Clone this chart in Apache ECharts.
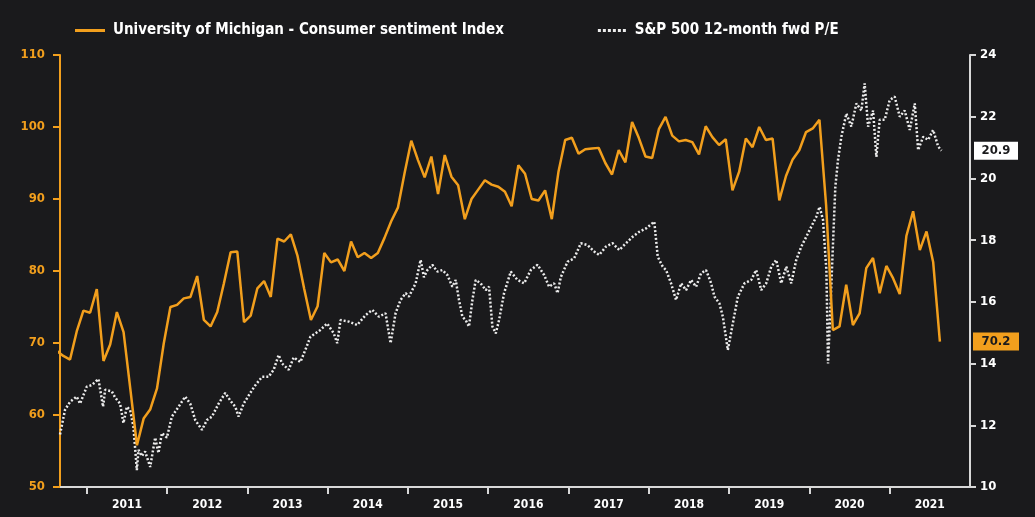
<!DOCTYPE html>
<html><head><meta charset="utf-8">
<script src="https://cdn.jsdelivr.net/npm/echarts@6/dist/echarts.min.js"></script>
<style>html,body{margin:0;padding:0;background:#1a1a1c;}#c{width:1035px;height:517px;}</style>
</head><body><div id="c"></div>
<script>
const FONT = '"DejaVu Sans Condensed","Liberation Sans Narrow","Roboto Condensed",sans-serif';
const ORANGE = '#F29F1D';

const seriesNames = ['University of Michigan - Consumer sentiment Index', 'S&P 500 12-month fwd P/E'];

// Monthly sentiment index, Aug 2010 .. Aug 2021 (plotted mid-month)
const umichStartYear = 2010, umichStartMonth = 8;
const umichValues = [
  68.9, 68.2, 67.7, 71.6, 74.5,
  74.2, 77.5, 67.5, 69.8, 74.3, 71.5, 63.7, 55.8, 59.5, 60.8, 63.7, 69.9,
  75.0, 75.3, 76.2, 76.4, 79.3, 73.2, 72.3, 74.3, 78.3, 82.6, 82.7, 72.9,
  73.8, 77.6, 78.6, 76.4, 84.5, 84.1, 85.1, 82.1, 77.5, 73.2, 75.1, 82.5,
  81.2, 81.6, 80.0, 84.1, 81.9, 82.5, 81.8, 82.5, 84.6, 86.9, 88.8, 93.6,
  98.1, 95.4, 93.0, 95.9, 90.7, 96.1, 93.1, 91.9, 87.2, 90.0, 91.3, 92.6,
  92.0, 91.7, 91.0, 89.0, 94.7, 93.5, 90.0, 89.8, 91.2, 87.2, 93.8, 98.2,
  98.5, 96.3, 96.9, 97.0, 97.1, 95.0, 93.4, 96.8, 95.1, 100.7, 98.5, 95.9,
  95.7, 99.7, 101.4, 98.8, 98.0, 98.2, 97.9, 96.2, 100.1, 98.6, 97.5, 98.3,
  91.2, 93.8, 98.4, 97.2, 100.0, 98.2, 98.4, 89.8, 93.2, 95.5, 96.8, 99.3,
  99.8, 101.0, 89.1, 71.8, 72.3, 78.1, 72.5, 74.1, 80.4, 81.8, 76.9, 80.7,
  79.0, 76.8, 84.9, 88.3, 82.9, 85.5, 81.2, 70.2
];

// S&P 500 forward P/E, dates as decimal years
const peDates = [
  2010.667, 2010.729, 2010.792, 2010.875, 2010.916, 2011.000, 2011.062, 2011.145, 2011.203, 2011.228,
  2011.312, 2011.353, 2011.415, 2011.457, 2011.499, 2011.540, 2011.581, 2011.624, 2011.644, 2011.686,
  2011.727, 2011.790, 2011.852, 2011.893, 2011.936, 2011.998, 2012.060, 2012.143, 2012.226, 2012.289,
  2012.351, 2012.435, 2012.497, 2012.559, 2012.642, 2012.725, 2012.788, 2012.850, 2012.891, 2012.954,
  2013.037, 2013.100, 2013.183, 2013.265, 2013.328, 2013.390, 2013.433, 2013.515, 2013.577, 2013.661,
  2013.723, 2013.786, 2013.910, 2013.994, 2014.076, 2014.119, 2014.160, 2014.264, 2014.368, 2014.472,
  2014.555, 2014.638, 2014.721, 2014.784, 2014.846, 2014.908, 2014.971, 2015.012, 2015.096, 2015.158,
  2015.199, 2015.242, 2015.304, 2015.366, 2015.429, 2015.491, 2015.553, 2015.595, 2015.636, 2015.678,
  2015.719, 2015.760, 2015.803, 2015.844, 2015.906, 2015.969, 2016.010, 2016.052, 2016.094, 2016.135,
  2016.197, 2016.281, 2016.364, 2016.447, 2016.530, 2016.614, 2016.696, 2016.758, 2016.821, 2016.863,
  2016.904, 2016.988, 2017.070, 2017.154, 2017.237, 2017.320, 2017.382, 2017.466, 2017.549, 2017.632,
  2017.716, 2017.799, 2017.881, 2017.965, 2018.068, 2018.111, 2018.173, 2018.215, 2018.277, 2018.339,
  2018.402, 2018.464, 2018.526, 2018.589, 2018.651, 2018.713, 2018.776, 2018.817, 2018.879, 2018.922,
  2018.984, 2019.046, 2019.109, 2019.191, 2019.275, 2019.337, 2019.400, 2019.462, 2019.525, 2019.587,
  2019.649, 2019.712, 2019.774, 2019.836, 2019.899, 2019.961, 2020.024, 2020.086, 2020.127, 2020.170,
  2020.211, 2020.232, 2020.264, 2020.294, 2020.323, 2020.356, 2020.398, 2020.460, 2020.522, 2020.585,
  2020.647, 2020.688, 2020.731, 2020.793, 2020.834, 2020.875, 2020.938, 2021.000, 2021.062, 2021.125,
  2021.187, 2021.250, 2021.312, 2021.354, 2021.417, 2021.479, 2021.541, 2021.604, 2021.645
];
const peValues = [
  11.7, 12.5, 12.76, 12.93, 12.7, 13.25, 13.3, 13.5, 12.6, 13.15,
  13.1, 12.9, 12.7, 12.07, 12.6, 12.5, 11.95, 10.55, 11.2, 11.0,
  11.15, 10.65, 11.6, 11.1, 11.75, 11.6, 12.28, 12.6, 12.93, 12.7,
  12.17, 11.85, 12.17, 12.28, 12.7, 13.05, 12.8, 12.6, 12.28, 12.7,
  13.05, 13.3, 13.57, 13.57, 13.8, 14.28, 14.0, 13.8, 14.2, 14.05,
  14.45, 14.87, 15.09, 15.3, 14.98, 14.66, 15.41, 15.36, 15.25, 15.57,
  15.74, 15.52, 15.63, 14.66, 15.63, 16.06, 16.28, 16.17, 16.6, 17.36,
  16.8, 17.03, 17.2, 16.98, 17.03, 16.87, 16.49, 16.71, 16.06, 15.52,
  15.41, 15.2, 16.06, 16.71, 16.6, 16.38, 16.49, 15.2, 14.98, 15.41,
  16.28, 16.98, 16.71, 16.6, 17.03, 17.2, 16.87, 16.49, 16.6, 16.28,
  16.8, 17.3, 17.41, 17.9, 17.84, 17.63, 17.52, 17.79, 17.9, 17.68,
  17.9, 18.11, 18.27, 18.38, 18.6, 17.46, 17.14, 17.03, 16.6, 16.06,
  16.6, 16.38, 16.71, 16.49, 16.93, 17.03, 16.6, 16.17, 15.95, 15.52,
  14.44, 15.3, 16.17, 16.6, 16.71, 17.03, 16.38, 16.6, 17.14, 17.36,
  16.6, 17.14, 16.6, 17.36, 17.79, 18.11, 18.44, 18.76, 19.08, 18.65,
  17.03, 14.0, 15.96, 17.9, 19.73, 20.6, 21.35, 22.1, 21.68, 22.43,
  22.2, 23.08, 21.68, 22.2, 20.7, 21.9, 21.9, 22.54, 22.65, 22.0,
  22.2, 21.57, 22.43, 20.92, 21.35, 21.25, 21.57, 21.03, 20.9
];

const yearTicks = [2011, 2012, 2013, 2014, 2015, 2016, 2017, 2018, 2019, 2020, 2021];
const leftTicks = { min: 50, max: 110, interval: 10 };
const rightTicks = { min: 10, max: 24, interval: 2 };
const xRange = { min: 2010.6667, max: 2022.0 };

const umichData = umichValues.map((v, i) => {
  const m = umichStartMonth - 1 + i;
  const yr = umichStartYear + Math.floor(m / 12) + ((m % 12) + 0.5) / 12;
  return [yr, v];
});
const peData = peDates.map((d, i) => [d, peValues[i]]);
const lastUmich = umichValues[umichValues.length - 1];
const lastPe = peValues[peValues.length - 1];

const DOT_ICON = 'path://M0,0h3v3h-3z M5,0h3v3h-3z M10,0h3v3h-3z M15,0h3v3h-3z M20,0h3v3h-3z M25,0h3v3h-3z';

const chart = echarts.init(document.getElementById('c'), null, { renderer: 'canvas' });
const labelStyle = { fontFamily: FONT, fontWeight: 'bold', fontSize: 13 };

chart.setOption({
  backgroundColor: '#1a1a1c',
  animation: false,
  textStyle: { fontFamily: FONT },
  grid: { left: 60, right: 65, top: 55, bottom: 30, containLabel: false },
  legend: {
    left: 70, top: 18,
    itemWidth: 30, itemHeight: 3, itemGap: 94,
    textStyle: { color: '#ffffff', fontFamily: FONT, fontWeight: 'bold', fontSize: 15, padding: [0, 0, 0, 3] },
    data: [
      { name: seriesNames[0], icon: 'rect', itemStyle: { color: ORANGE } },
      { name: seriesNames[1], icon: DOT_ICON, itemStyle: { color: '#ececec' } }
    ]
  },
  xAxis: {
    type: 'value', min: xRange.min, max: xRange.max,
    axisLine: { show: true, lineStyle: { color: '#d8d8d8', width: 2 } },
    axisTick: { show: true, customValues: yearTicks, length: 7, lineStyle: { color: '#d8d8d8', width: 2 } },
    axisLabel: { show: true, customValues: yearTicks.map(y => y + 0.5), formatter: v => String(Math.floor(v)),
                 color: '#ffffff', margin: 12, fontFamily: FONT, fontWeight: 'bold', fontSize: 12 },
    splitLine: { show: false }
  },
  yAxis: [
    {
      type: 'value', position: 'left', min: leftTicks.min, max: leftTicks.max, interval: leftTicks.interval,
      axisLine: { show: true, lineStyle: { color: ORANGE, width: 2 } },
      axisTick: { show: true, length: 7, lineStyle: { color: ORANGE, width: 2 } },
      axisLabel: Object.assign({ color: ORANGE, margin: 15 }, labelStyle),
      splitLine: { show: false }
    },
    {
      type: 'value', position: 'right', min: rightTicks.min, max: rightTicks.max, interval: rightTicks.interval,
      axisLine: { show: true, lineStyle: { color: '#d8d8d8', width: 2 } },
      axisTick: { show: true, length: 6, lineStyle: { color: '#d8d8d8', width: 2 } },
      axisLabel: Object.assign({ color: '#ffffff', margin: 10 }, labelStyle),
      splitLine: { show: false }
    }
  ],
  series: [
    {
      name: seriesNames[0], type: 'line', yAxisIndex: 0, data: umichData,
      showSymbol: false, symbol: 'none', clip: true,
      lineStyle: { color: ORANGE, width: 2.5 },
      itemStyle: { color: ORANGE },
      z: 3,
      markPoint: {
        symbol: 'rect', symbolSize: [46, 18], symbolOffset: [26, 0],
        itemStyle: { color: ORANGE },
        label: { show: true, color: '#1a1a1c', fontFamily: FONT, fontWeight: 'bold', fontSize: 13, formatter: () => lastUmich.toFixed(1) },
        data: [{ coord: [xRange.max, lastUmich] }]
      }
    },
    {
      name: seriesNames[1], type: 'line', yAxisIndex: 1, data: peData,
      showSymbol: false, symbol: 'none', clip: true,
      lineStyle: { color: '#ececec', width: 2.5, type: [2, 2] },
      itemStyle: { color: '#ececec' },
      z: 2,
      markPoint: {
        symbol: 'rect', symbolSize: [44, 18], symbolOffset: [26, 0],
        itemStyle: { color: '#ffffff' },
        label: { show: true, color: '#1a1a1c', fontFamily: FONT, fontWeight: 'bold', fontSize: 13, formatter: () => lastPe.toFixed(1) },
        data: [{ coord: [xRange.max, lastPe] }]
      }
    }
  ]
});
</script></body></html>
